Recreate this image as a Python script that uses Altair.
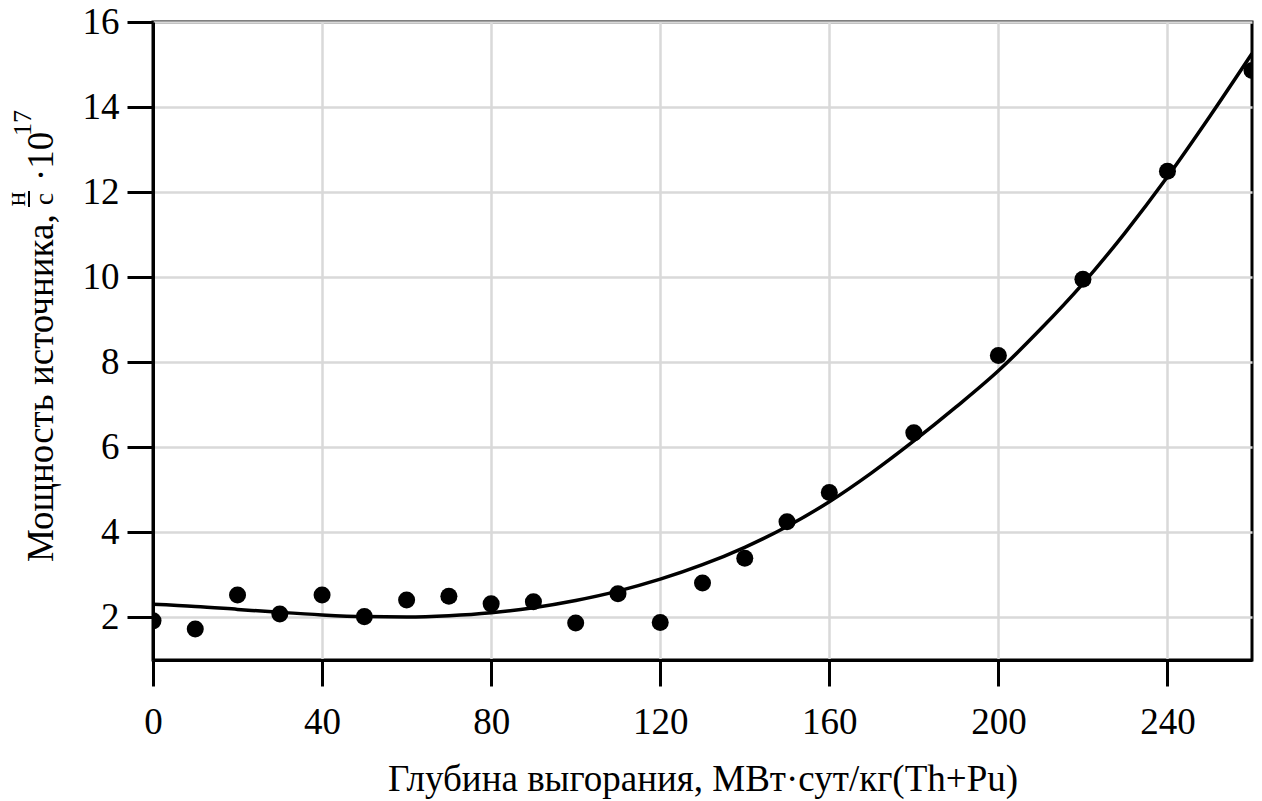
import altair as alt
import pandas as pd

# ---- data ----
burnup = [0, 10, 20, 30, 40, 50, 60, 70, 80, 90, 100, 110, 120, 130, 140, 150, 160,
          180, 200, 220, 240, 260]
source = [1.92, 1.73, 2.53, 2.08, 2.53, 2.02, 2.41, 2.50, 2.32, 2.37, 1.87, 2.56, 1.88,
          2.81, 3.39, 4.25, 4.94, 6.34, 8.16, 9.95, 12.49, 14.86]

fit_x = [0, 10, 20, 30, 40, 50, 60, 70, 80, 90, 100, 110, 120, 130, 140, 150, 160,
         170, 180, 190, 200, 210, 220, 230, 240, 250, 260]
fit_y = [2.31, 2.26, 2.19, 2.12, 2.06, 2.02, 2.01, 2.04, 2.11, 2.23, 2.40, 2.62, 2.90,
         3.24, 3.65, 4.14, 4.72, 5.40, 6.15, 6.95, 7.80, 8.78, 9.85, 11.05, 12.36, 13.78,
         15.26]

x_ticks = [0, 40, 80, 120, 160, 200, 240]
y_ticks = [2, 4, 6, 8, 10, 12, 14, 16]

x_title = "Глубина выгорания, МВт·сут/кг(Th+Pu)"
y_title_main = "Мощность источника,"
y_frac_num = "н"
y_frac_den = "с"
y_mult = "·10"
y_exp = "17"

FONT = "Liberation Serif"
W, H = 1099, 638

pts = pd.DataFrame({"x": burnup, "y": source})
fit = pd.DataFrame({"x": fit_x, "y": fit_y})
one = pd.DataFrame({"k": [0]})

xs = alt.Scale(domain=[0, 260], nice=False, zero=False)
ys = alt.Scale(domain=[1, 16], nice=False, zero=False)

xaxis = alt.Axis(values=x_ticks, title=x_title, titleY=130, titleBaseline="alphabetic",
                 labelPadding=18, tickSize=26)
yaxis = alt.Axis(values=y_ticks, title=None, labelPadding=8, tickSize=26)

line = alt.Chart(fit).mark_line(color="black", strokeWidth=3.5, interpolate="monotone", clip=True).encode(
    x=alt.X("x:Q", scale=xs, axis=xaxis),
    y=alt.Y("y:Q", scale=ys, axis=yaxis),
)

dots = alt.Chart(pts).mark_circle(color="black", opacity=1, size=290, clip=True).encode(
    x=alt.X("x:Q", scale=xs),
    y=alt.Y("y:Q", scale=ys),
)

def label(txt, x, y, size, align):
    return alt.Chart(one).mark_text(
        font=FONT, fontSize=size, angle=270, align=align, baseline="alphabetic", color="black"
    ).encode(x=alt.value(x), y=alt.value(y), text=alt.value(txt))

t_main = label(y_title_main, -100, 540, 37, "left")
t_num = label(y_frac_num, -128, 177, 27, "center")
t_den = label(y_frac_den, -100, 177, 27, "center")
t_mult = label(y_mult, -100, 159, 37, "left")
t_exp = label(y_exp, -122, 114, 26, "left")
bar = alt.Chart(one).mark_rule(color="black", strokeWidth=2).encode(
    x=alt.value(-124), y=alt.value(169), y2=alt.value(185)
)

chart = alt.layer(line, dots, t_main, t_num, t_den, bar, t_mult, t_exp).properties(
    width=W, height=H,
    autosize=alt.AutoSizeParams(type="none"),
    padding={"left": 153, "top": 22, "right": 10, "bottom": 141},
    background="white",
).configure_view(
    stroke="black", strokeWidth=3
).configure_axis(
    labelFont=FONT, labelFontSize=37, labelColor="black",
    titleFont=FONT, titleFontSize=37, titleColor="black", titleFontWeight="normal",
    domainColor="black", domainWidth=3,
    tickColor="black", tickWidth=3,
    gridColor="#d9d9d9", gridWidth=2.5, grid=True,
    labelFlush=False, labelOverlap=False,
)

chart.save("out.html", embed_options={"renderer": "svg", "actions": False})
